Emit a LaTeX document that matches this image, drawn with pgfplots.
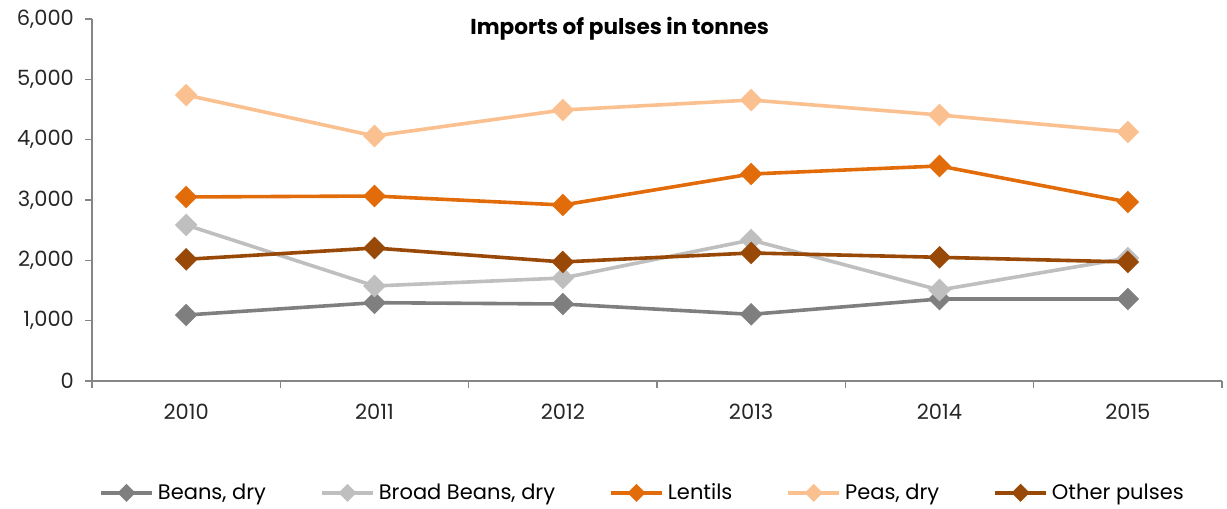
\documentclass[border=0pt]{standalone}
\usepackage{fontspec}
\setmainfont{Poppins}
\usepackage{pgfplots}
\pgfplotsset{compat=1.18}

\definecolor{beans}{HTML}{7F7F7F}
\definecolor{broad}{HTML}{BFBFBF}
\definecolor{lentils}{HTML}{E36C0A}
\definecolor{peas}{HTML}{FAC090}
\definecolor{other}{HTML}{984807}
\definecolor{axisgray}{HTML}{868686}

\begin{document}
\begin{tikzpicture}
\useasboundingbox (-46pt,-64pt) rectangle (567.5pt,190.5pt);
\begin{axis}[
  at={(0pt,0pt)}, anchor=south west,
  scale only axis,
  width=565pt, height=181pt,
  xmin=0.5, xmax=6.5,
  ymin=0, ymax=6000,
  axis x line*=bottom, axis y line*=left,
  axis line style={draw=axisgray, line width=0.8pt, -},
  tick style={draw=axisgray, line width=0.8pt},
  tick align=outside,
  major tick length=3.5pt,
  xtick={0.5,1.5,...,6.5},
  xticklabels={},
  extra x ticks={1,2,3,4,5,6},
  extra x tick labels={2010,2011,2012,2013,2014,2015},
  extra x tick style={major tick length=0pt},
  ytick={0,1000,...,6000},
  scaled y ticks=false,
  /pgf/number format/1000 sep={,},
  /pgf/number format/assume math mode=true,
  ticklabel style={font=\fontsize{10.5}{12}\selectfont, text=black!85},
  xticklabel style={yshift=-8pt},
  yticklabel style={xshift=-2pt},
  title={Imports of pulses in tonnes},
  title style={at={(0.467,0.94)}, anchor=center, font=\bfseries\fontsize{10.8}{12}\selectfont},
  every axis plot/.append style={line width=1.8pt, mark=square*, mark size=3.1pt,
    mark options={rotate=45, solid}},
  legend style={at={(0.488,-0.309)}, anchor=center, legend columns=5, draw=none,
    font=\fontsize{10.5}{12}\selectfont,
    /tikz/every even column/.append style={column sep=25pt}},
  legend image code/.code={
    \draw (-0.45cm,0cm) -- (0.45cm,0cm);
    \draw[mark size=2.3pt] plot coordinates {(0cm,0cm)};
  },
]
\addplot[color=beans] coordinates {(1,1094) (2,1298) (3,1276) (4,1105) (5,1359) (6,1359)};
\addlegendentry{Beans, dry}
\addplot[color=broad] coordinates {(1,2586) (2,1575) (3,1707) (4,2337) (5,1508) (6,2039)};
\addlegendentry{Broad Beans, dry}
\addplot[color=lentils] coordinates {(1,3050) (2,3066) (3,2917) (4,3431) (5,3564) (6,2967)};
\addlegendentry{Lentils}
\addplot[color=peas] coordinates {(1,4740) (2,4061) (3,4492) (4,4657) (5,4409) (6,4127)};
\addlegendentry{Peas, dry}
\addplot[color=other] coordinates {(1,2017) (2,2204) (3,1973) (4,2122) (5,2050) (6,1973)};
\addlegendentry{Other pulses}
\end{axis}
\end{tikzpicture}
\end{document}
